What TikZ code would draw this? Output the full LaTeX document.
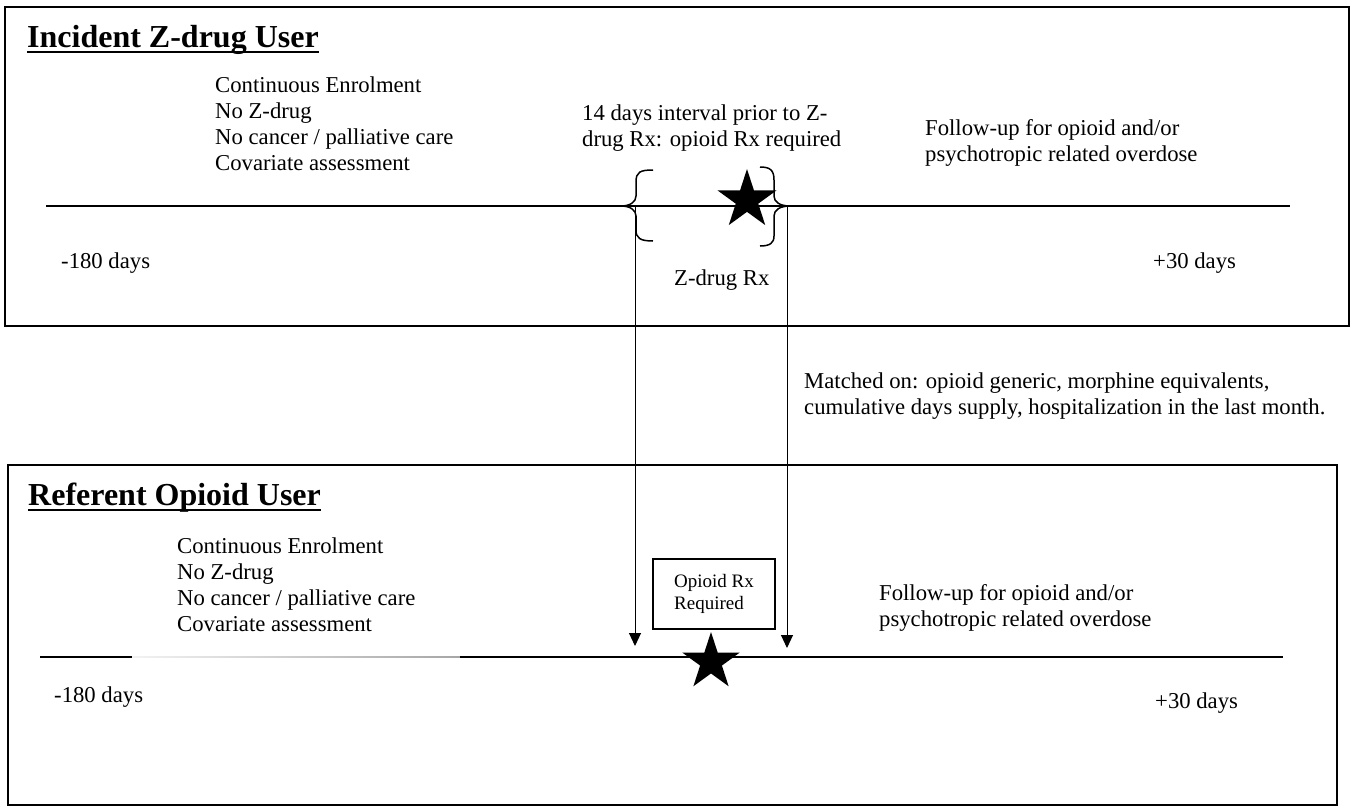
\documentclass[tikz,border=0pt]{standalone}
\usepackage{fontspec}
\setmainfont{Liberation Serif}
\usetikzlibrary{shapes.geometric,arrows.meta}

\begin{document}
\begin{tikzpicture}[x=1pt, y=-1pt, every node/.style={inner sep=0pt}]
        \tikzstyle{txtStyle} = [anchor=west, align=left, font=\fontsize{22.7}{26}\selectfont]
        \tikzstyle{titleStyle} = [anchor=base west, font=\fontsize{32}{38}\selectfont\bfseries]
        \tikzstyle{boxStyle} = [draw=black, line width=2pt]
        \tikzstyle{timeLine} = [draw=black, line width=2pt]
        \tikzstyle{braceStyle} = [draw=black, line width=1.5pt]
        \tikzstyle{starStyle} = [star, star points=5, star point ratio=2.618, fill=black, minimum size=62pt]
        \tikzstyle{rxStyle} = [draw=black, line width=1.2pt, minimum width=122pt, minimum height=70pt,
                               align=left, font=\fontsize{19}{22}\selectfont]
        \tikzstyle{arrowEdge} = [draw=black, line width=1pt, -{Triangle[length=13pt,width=12pt]}]
        \useasboundingbox (0,0) rectangle (1353,807);
        % incident Z-drug user
        \draw[boxStyle] (5,7) rectangle (1349,326);
        \node[titleStyle] (titleZ) at (27,47) {Incident Z-drug User};
        \draw[line width=2.5pt] ([yshift=-5pt]titleZ.base west) -- ([yshift=-5pt]titleZ.base east);
        \node[txtStyle] (critTop) at (215,124) {Continuous Enrolment\\No Z-drug\\No cancer / palliative care\\Covariate assessment};
        \node[txtStyle] (interval) at (582,128) {14 days interval prior to Z-\\drug Rx: opioid Rx required};
        \node[txtStyle] (followTop) at (925,143) {Follow-up for opioid and/or\\psychotropic related overdose};
        \node[txtStyle] (minTop) at (61,263) {-180 days};
        \node[txtStyle] (plusTop) at (1153,263) {+30 days};
        \node[txtStyle] (zdrugRx) at (674,280) {Z-drug Rx};
        \coordinate (lineTopA) at (46,206);
        \coordinate (lineTopB) at (1290,206);
        \path[timeLine] (lineTopA) -- (lineTopB);
        \draw[braceStyle] (653,170) .. controls (640,170) and (636,172) .. (636,182) -- (636,196)
            .. controls (636,202) and (630,206) .. (621,206) .. controls (630,206) and (636,210) .. (636,216)
            -- (636,230) .. controls (636,238) and (640,241) .. (653,241);
        \draw[braceStyle] (760,167) .. controls (770,167) and (774,170) .. (774,180) -- (774,196)
            .. controls (774,202) and (780,206) .. (790,206) .. controls (780,206) and (774,210) .. (774,216)
            -- (774,236) .. controls (774,243) and (770,246) .. (760,246);
        \node[starStyle] (starTop) at (747,200) {};
        \node[txtStyle] (matched) at (804,396) {Matched on: opioid generic, morphine equivalents,\\cumulative days supply, hospitalization in the last month.};
        % referent opioid user
        \draw[boxStyle] (8,465) rectangle (1337,805);
        \node[titleStyle] (titleOp) at (28,505) {Referent Opioid User};
        \draw[line width=2.5pt] ([yshift=-5pt]titleOp.base west) -- ([yshift=-5pt]titleOp.base east);
        \node[txtStyle] (critBot) at (177,585) {Continuous Enrolment\\No Z-drug\\No cancer / palliative care\\Covariate assessment};
        \node[rxStyle] (rxBox) at (714,594) {Opioid Rx\\Required};
        \node[txtStyle] (followBot) at (879,608) {Follow-up for opioid and/or\\psychotropic related overdose};
        \node[txtStyle] (minBot) at (54,697) {-180 days};
        \node[txtStyle] (plusBot) at (1155,703) {+30 days};
        \coordinate (lineBotA) at (40,657);
        \coordinate (gapA) at (132,657);
        \coordinate (gapB) at (460,657);
        \coordinate (lineBotB) at (1283,657);
        \path[timeLine] (lineBotA) -- (gapA);
        \shade[left color=gray!10, right color=gray!70] (132,656.4) rectangle (460,657.8);
        \path[timeLine] (gapB) -- (lineBotB);
        \node[starStyle, minimum size=60pt] (starBot) at (711,662) {};
        % matching arrows
        \coordinate (armLtop) at (635,206);
        \coordinate (armLbot) at (635,646);
        \coordinate (armRtop) at (787,207);
        \coordinate (armRbot) at (787,648);
        \path[arrowEdge] (armLtop) -- (armLbot);
        \path[arrowEdge] (armRtop) -- (armRbot);
\end{tikzpicture}
\end{document}
